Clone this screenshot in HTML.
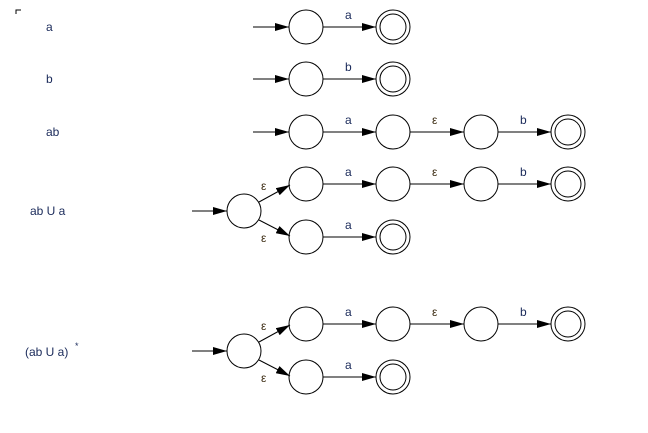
<!DOCTYPE html>
<html><head><style>
html,body{margin:0;padding:0;background:#fff;}
svg{display:block;}
text{font-family:"Liberation Sans",sans-serif;font-size:12px;fill:#1a2a5a;}
.l{fill:#3a2a10;}
</style></head><body>
<svg width="648" height="433" viewBox="0 0 648 433" xmlns="http://www.w3.org/2000/svg">
<defs>
<marker id="ar" markerWidth="14" markerHeight="8" refX="14" refY="4" orient="auto" markerUnits="userSpaceOnUse">
<path d="M0,0 L14,4 L0,8 z" fill="#000"/>
</marker>
</defs>
<path d="M16 14 V10 H21" stroke="#000" fill="none" stroke-width="1"/>
<g fill="none" stroke="#000" stroke-width="1">
<!-- row1 -->
<line x1="253" y1="27" x2="289" y2="27" marker-end="url(#ar)"/>
<circle cx="306" cy="27" r="17"/>
<line x1="323" y1="27" x2="376" y2="27" marker-end="url(#ar)"/>
<circle cx="393" cy="27" r="17"/><circle cx="393" cy="27" r="13"/>
<!-- row2 -->
<line x1="253" y1="79" x2="289" y2="79" marker-end="url(#ar)"/>
<circle cx="306" cy="79" r="17"/>
<line x1="323" y1="79" x2="376" y2="79" marker-end="url(#ar)"/>
<circle cx="393" cy="79" r="17"/><circle cx="393" cy="79" r="13"/>
<!-- row3 -->
<line x1="253" y1="132" x2="289" y2="132" marker-end="url(#ar)"/>
<circle cx="306" cy="132" r="17"/>
<line x1="323" y1="132" x2="376" y2="132" marker-end="url(#ar)"/>
<circle cx="393" cy="132" r="17"/>
<line x1="410" y1="132" x2="464" y2="132" marker-end="url(#ar)"/>
<circle cx="481" cy="132" r="17"/>
<line x1="498" y1="132" x2="551" y2="132" marker-end="url(#ar)"/>
<circle cx="568" cy="132" r="17"/><circle cx="568" cy="132" r="13"/>
<!-- row4 -->
<line x1="192" y1="211" x2="227" y2="211" marker-end="url(#ar)"/>
<circle cx="244" cy="211" r="17"/>
<line x1="259" y1="202" x2="290" y2="185" marker-end="url(#ar)"/>
<line x1="259" y1="220" x2="290" y2="236" marker-end="url(#ar)"/>
<circle cx="306" cy="184" r="17"/>
<line x1="323" y1="184" x2="376" y2="184" marker-end="url(#ar)"/>
<circle cx="393" cy="184" r="17"/>
<line x1="410" y1="184" x2="464" y2="184" marker-end="url(#ar)"/>
<circle cx="481" cy="184" r="17"/>
<line x1="498" y1="184" x2="551" y2="184" marker-end="url(#ar)"/>
<circle cx="568" cy="184" r="17"/><circle cx="568" cy="184" r="13"/>
<circle cx="306" cy="237" r="17"/>
<line x1="323" y1="237" x2="376" y2="237" marker-end="url(#ar)"/>
<circle cx="393" cy="237" r="17"/><circle cx="393" cy="237" r="13"/>
<!-- row5 -->
<line x1="192" y1="351" x2="227" y2="351" marker-end="url(#ar)"/>
<circle cx="244" cy="351" r="17"/>
<line x1="259" y1="342" x2="290" y2="325" marker-end="url(#ar)"/>
<line x1="259" y1="360" x2="290" y2="376" marker-end="url(#ar)"/>
<circle cx="306" cy="324" r="17"/>
<line x1="323" y1="324" x2="376" y2="324" marker-end="url(#ar)"/>
<circle cx="393" cy="324" r="17"/>
<line x1="410" y1="324" x2="464" y2="324" marker-end="url(#ar)"/>
<circle cx="481" cy="324" r="17"/>
<line x1="498" y1="324" x2="551" y2="324" marker-end="url(#ar)"/>
<circle cx="568" cy="324" r="17"/><circle cx="568" cy="324" r="13"/>
<circle cx="306" cy="377" r="17"/>
<line x1="323" y1="377" x2="376" y2="377" marker-end="url(#ar)"/>
<circle cx="393" cy="377" r="17"/><circle cx="393" cy="377" r="13"/>
</g>
<!-- left labels -->
<text x="46" y="31">a</text>
<text x="46" y="83">b</text>
<text x="46" y="136">ab</text>
<text x="30" y="215">ab U a</text>
<text x="25" y="356">(ab U a)</text><text x="75" y="349" style="font-size:9px">*</text>
<!-- edge labels -->
<g>
<text x="345" y="19">a</text>
<text x="345" y="71">b</text>
<text x="345" y="124">a</text><text x="432" y="124" class="l">ε</text><text x="520" y="124">b</text>
<text x="345" y="176">a</text><text x="432" y="176" class="l">ε</text><text x="520" y="176">b</text>
<text x="345" y="229">a</text>
<text x="261" y="190" class="l">ε</text><text x="261" y="242" class="l">ε</text>
<text x="345" y="316">a</text><text x="432" y="316" class="l">ε</text><text x="520" y="316">b</text>
<text x="345" y="369">a</text>
<text x="261" y="330" class="l">ε</text><text x="261" y="382" class="l">ε</text>
</g>
</svg>
</body></html>
